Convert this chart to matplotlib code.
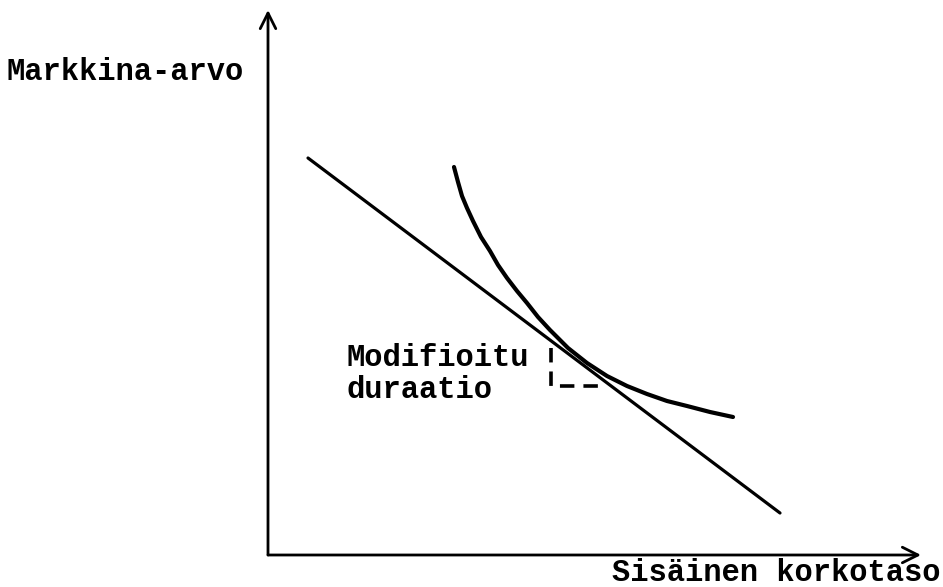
import matplotlib
matplotlib.use("Agg")
import matplotlib.pyplot as plt

# coordinates (x to the right, y downwards)
axis_origin = (268, 555)
y_axis_top = (268, 10)
x_axis_end = (921, 555)

tangent_x = [308, 780]
tangent_y = [158, 513]

curve_x = [454, 458, 462, 467, 473, 481, 490, 498, 507, 517, 527, 538, 550, 568, 587, 607, 627, 647, 667, 687, 710, 733]
curve_y = [167, 182, 196, 208, 221, 237, 251, 265, 278, 291, 303, 317, 330, 348, 363, 376, 386, 394, 401, 406, 412, 417]

dash_x = [551, 551, 606]
dash_y = [348, 386, 386]

ylabel = "Markkina-arvo"
xlabel = "Sisäinen korkotaso"
note = "Modifioitu\nduraatio"

fig = plt.figure(figsize=(9.43, 5.87), dpi=100)
ax = fig.add_axes([0, 0, 1, 1])
ax.set_xlim(0, 943)
ax.set_ylim(587, 0)
ax.axis("off")

arrow = dict(arrowstyle="->", lw=2.0, color="black", mutation_scale=28, shrinkA=0, shrinkB=0)
ax.annotate("", xy=y_axis_top, xytext=axis_origin, arrowprops=arrow)
ax.annotate("", xy=x_axis_end, xytext=axis_origin, arrowprops=arrow)

ax.plot(tangent_x, tangent_y, color="black", lw=2.3, solid_capstyle="round")
ax.plot(curve_x, curve_y, color="black", lw=3.0, solid_capstyle="round", solid_joinstyle="round")
ax.plot(dash_x, dash_y, color="black", lw=2.6, linestyle=(0, (4, 2.5)))

font = dict(family="Liberation Mono", fontsize=22, fontweight="bold", color="black")
ax.text(6, 72, ylabel, ha="left", va="center", **font)
ax.text(347, 374, note, ha="left", va="center", linespacing=1.1, **font)
ax.text(940, 581, xlabel, ha="right", va="baseline", **font)

fig.savefig("out.png", dpi=100)
